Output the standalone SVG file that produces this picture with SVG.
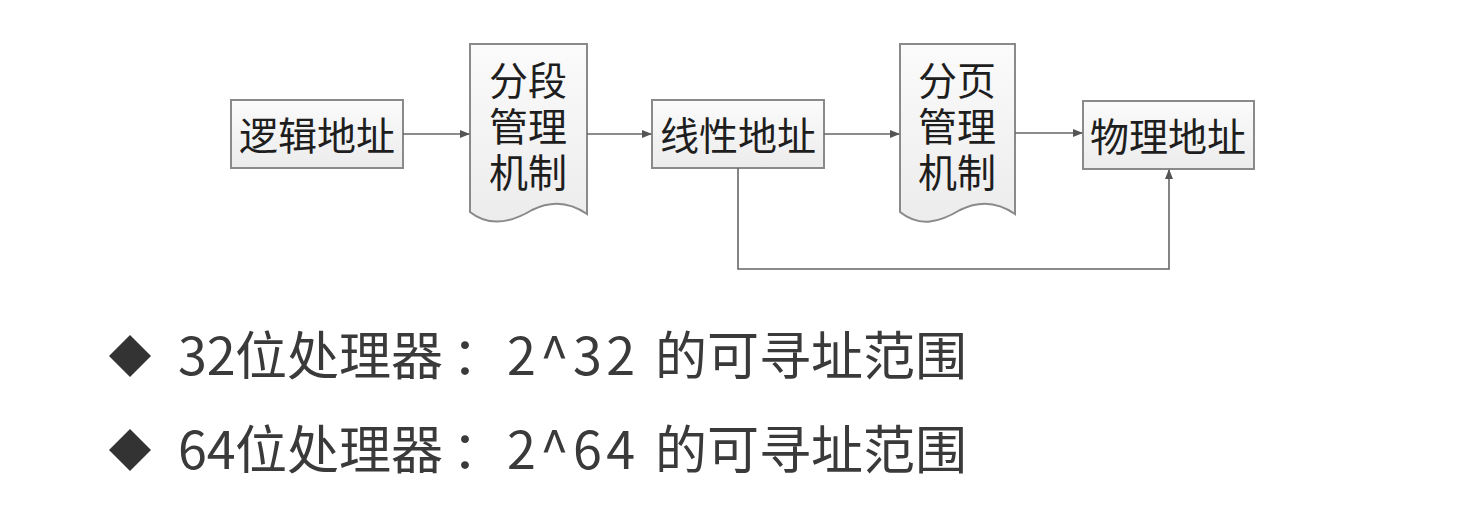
<svg xmlns="http://www.w3.org/2000/svg" width="1476" height="525" viewBox="0 0 1476 525">
<defs>
<linearGradient id="g" x1="0" y1="0" x2="0" y2="1">
<stop offset="0" stop-color="#fbfbfb"/>
<stop offset="1" stop-color="#ececec"/>
</linearGradient>
<marker id="arr" markerWidth="10" markerHeight="8" refX="9" refY="4" orient="auto" markerUnits="userSpaceOnUse">
<path d="M0,0 L10,4 L0,8 Z" fill="#555"/>
</marker>
<style>
.box{fill:url(#g);stroke:#8a8a8a;stroke-width:2}
.lbl{font-family:"Microsoft YaHei","Noto Sans CJK SC",sans-serif;font-size:39px;fill:#1e1e1e;text-anchor:middle;dominant-baseline:central}
.con{fill:none;stroke:#666;stroke-width:1.6}
.bul{font-family:"Noto Sans CJK SC",sans-serif;font-size:52px;fill:#3a3a3a}
</style>
</defs>
<rect width="1476" height="525" fill="#fff"/>
<g id="n1">
<rect class="box" x="231" y="100" width="172" height="68"/>
<text class="lbl" x="317" y="133">逻辑地址</text>
</g>
<g id="n2">
<path class="box" d="M470,44 H587 V214 C570,202 552,200 532,210 C512,222 490,228 470,212 Z"/>
<text class="lbl" x="528" y="78">分段</text>
<text class="lbl" x="528" y="124">管理</text>
<text class="lbl" x="528" y="170">机制</text>
</g>
<g id="n3">
<rect class="box" x="652" y="100" width="172" height="68"/>
<text class="lbl" x="738" y="133">线性地址</text>
</g>
<g id="n4">
<path class="box" d="M900,44 H1015 V214 C998,202 980,200 960,210 C940,222 920,228 900,212 Z"/>
<text class="lbl" x="957" y="78">分页</text>
<text class="lbl" x="957" y="124">管理</text>
<text class="lbl" x="957" y="170">机制</text>
</g>
<g id="n5">
<rect class="box" x="1083" y="101" width="171" height="68"/>
<text class="lbl" x="1168" y="134">物理地址</text>
</g>
<g id="connectors">
<line class="con" x1="403" y1="134" x2="469" y2="134" marker-end="url(#arr)"/>
<line class="con" x1="587" y1="134" x2="651" y2="134" marker-end="url(#arr)"/>
<line class="con" x1="824" y1="134" x2="899" y2="134" marker-end="url(#arr)"/>
<line class="con" x1="1015" y1="133" x2="1082" y2="133" marker-end="url(#arr)"/>
<polyline class="con" points="738,168 738,269 1169,269 1169,170" marker-end="url(#arr)"/>
</g>
<g id="bullets">
<path d="M109,356 L130,335 L151,356 L130,377 Z" fill="#333"/>
<text class="bul" y="375"><tspan x="178">32</tspan><tspan x="235">位处理器</tspan><tspan x="452">：</tspan><tspan x="507" textLength="128" lengthAdjust="spacing">2^32</tspan><tspan x="655">的可寻址范围</tspan></text>
<path d="M109,450 L130,429 L151,450 L130,471 Z" fill="#333"/>
<text class="bul" y="469"><tspan x="178">64</tspan><tspan x="235">位处理器</tspan><tspan x="452">：</tspan><tspan x="507" textLength="128" lengthAdjust="spacing">2^64</tspan><tspan x="655">的可寻址范围</tspan></text>
</g>
</svg>
